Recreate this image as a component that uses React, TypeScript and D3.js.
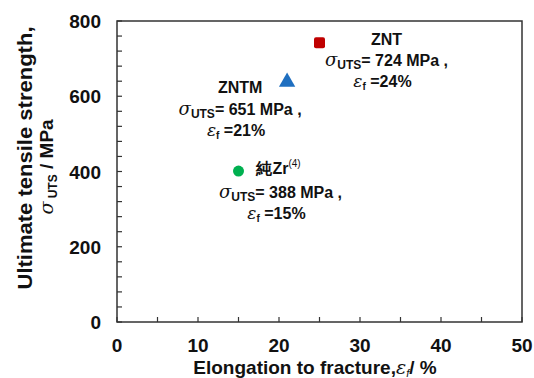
import React from "react";
import * as d3 from "d3";

const materials = ["ZNT", "ZNTM", "純Zr"];
const elongation = [25, 21, 15];
const strength = [742, 638, 401];
const labelUTS = [724, 651, 388];
const labelEf = [24, 21, 15];
const colors = ["#c00000", "#1f6fc0", "#00b050"];
const shapes = ["square", "triangle", "circle"];
const xTicks = [0, 10, 20, 30, 40, 50];
const yTicks = [0, 200, 400, 600, 800];

// label layout (pixel offsets from point)
const labelLayout = [
  { dx: 67, dy: -4, titleDx: 67, lineDy: 0 },
  { dx: -47, dy: 5, titleDx: -47, lineDy: 1 },
  { dx: 42, dy: -3, titleDx: 40, lineDy: 3 },
];

const W = 534, H = 378;
const M = { left: 117, right: 12, top: 21, bottom: 56 };

export default function App() {
  const x = d3.scaleLinear().domain([0, 50]).range([M.left, W - M.right]);
  const y = d3.scaleLinear().domain([0, 800]).range([H - M.bottom, M.top]);
  const xMinor = d3.range(0, 50.01, 5);
  const yMinor = d3.range(0, 800.01, 40);
  const font = "'Liberation Sans', Arial, sans-serif";
  const sym = (s: string, i: number) => {
    const px = x(elongation[i]);
    const py = y(strength[i]);
    if (s === "square")
      return <rect key={i} x={px - 5.5} y={py - 5.5} width={11} height={11} rx={2} fill={colors[i]} />;
    if (s === "triangle") {
      const p = d3.symbol().type(d3.symbolTriangle).size(115)();
      return <path key={i} d={p as string} transform={`translate(${px},${py})`} fill={colors[i]} />;
    }
    return <circle key={i} cx={px} cy={py} r={5.5} fill={colors[i]} />;
  };
  return (
    <svg width={W} height={H} style={{ position: "absolute", left: 0, top: 0, background: "#fff" }} fontFamily={font}>
      <rect x={M.left} y={M.top} width={W - M.left - M.right} height={H - M.top - M.bottom} fill="none" stroke="#333" strokeWidth={1.5} />
      {xMinor.map((t) => (
        <line key={"xm" + t} x1={x(t)} x2={x(t)} y1={y(0)} y2={y(0) - 5} stroke="#333" strokeWidth={1.2} />
      ))}
      {yMinor.map((t) => (
        <line key={"ym" + t} x1={x(0)} x2={x(0) + 5} y1={y(t)} y2={y(t)} stroke="#333" strokeWidth={1.2} />
      ))}
      {xTicks.map((t) => (
        <text key={"xt" + t} x={x(t)} y={352} textAnchor="middle" fontSize={19} fontWeight="bold" fill="#111">{t}</text>
      ))}
      {yTicks.map((t) => (
        <text key={"yt" + t} x={101} y={y(t) + 7} textAnchor="end" fontSize={19} fontWeight="bold" fill="#111">{t}</text>
      ))}
      <text x={315} y={374} textAnchor="middle" fontSize={19} fontWeight="bold" fill="#111">
        Elongation to fracture,
        <tspan fontFamily="'DejaVu Serif', serif" fontStyle="italic" fontWeight="normal">ε</tspan>
        <tspan fontSize={11} dy={3} fontStyle="italic" fontWeight="normal">f</tspan>
        <tspan dy={-3}>/ %</tspan>
      </text>
      <text transform="translate(32,158) rotate(-90)" textAnchor="middle" fontSize={20} fontWeight="bold" fill="#111" textLength={263} lengthAdjust="spacingAndGlyphs">
        Ultimate tensile strength,
      </text>
      <text transform="translate(53,167) rotate(-90)" textAnchor="middle" fontSize={19} fontWeight="bold" fill="#111">
        <tspan fontFamily="'DejaVu Serif', serif" fontStyle="italic" fontWeight="normal">σ</tspan>
        <tspan fontSize={12} dy={4}> UTS</tspan>
        <tspan dy={-4}> / MPa</tspan>
      </text>
      {shapes.map((s, i) => sym(s, i))}
      {materials.map((m, i) => {
        const px = x(elongation[i]);
        const py = y(strength[i]);
        const L = labelLayout[i];
        const cx = px + L.dx;
        const ty = py + L.dy;
        return (
          <g key={"lab" + i} fontSize={16} fontWeight="bold" fill="#111" textAnchor="middle">
            <text x={px + L.titleDx} y={ty + 6}>
              {m}
              {i === 2 ? <tspan fontSize={10} dy={-7} fontWeight="normal">(4)</tspan> : null}
            </text>
            <text x={cx} y={ty + 27 + L.lineDy}>
              <tspan fontFamily="'DejaVu Serif', serif" fontStyle="italic" fontWeight="normal" fontSize={18}>σ</tspan>
              <tspan fontSize={12} dy={3}>UTS</tspan>
              <tspan dy={-3}>= {labelUTS[i]} MPa ,</tspan>
            </text>
            <text x={cx - 4} y={ty + 48 + L.lineDy}>
              <tspan fontFamily="'DejaVu Serif', serif" fontStyle="italic" fontWeight="normal" fontSize={17}>ε</tspan>
              <tspan fontSize={10} dy={3}>f</tspan>
              <tspan dy={-3}> ={labelEf[i]}%</tspan>
            </text>
          </g>
        );
      })}
    </svg>
  );
}
